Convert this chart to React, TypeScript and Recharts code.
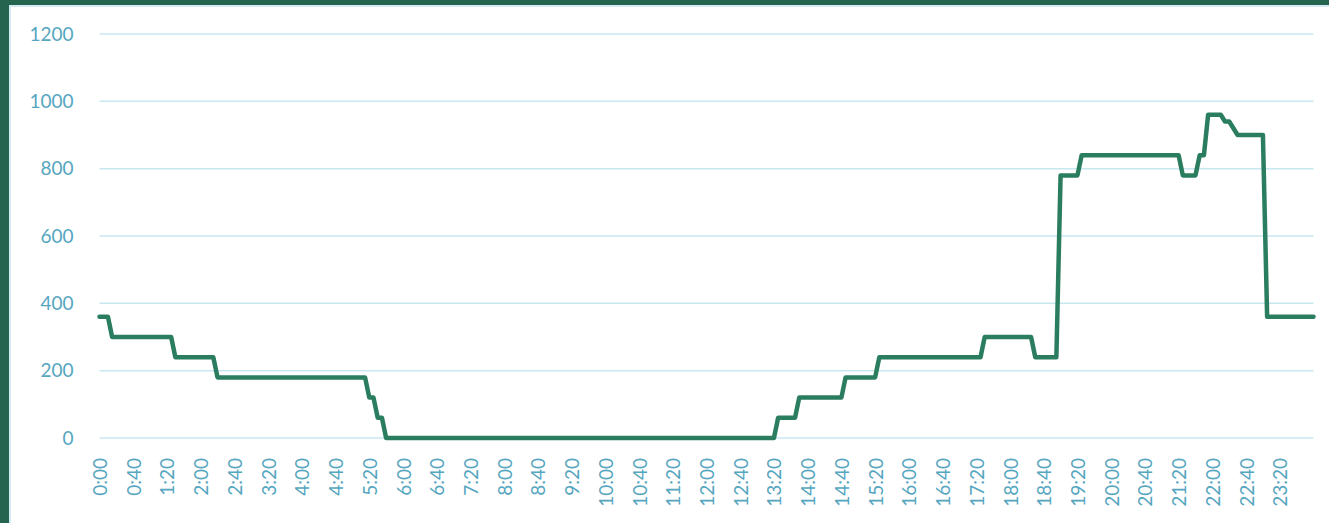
import React from 'react';
import { LineChart, Line, XAxis, YAxis, CartesianGrid } from 'recharts';

// readings every 5 minutes, 0:00 .. 24:00 (12 values per hour)
const HOURLY_VALUES: number[][] = [
  [360, 360, 360, 300, 300, 300, 300, 300, 300, 300, 300, 300], // 0
  [300, 300, 300, 300, 300, 300, 240, 240, 240, 240, 240, 240], // 1
  [240, 240, 240, 240, 180, 180, 180, 180, 180, 180, 180, 180], // 2
  [180, 180, 180, 180, 180, 180, 180, 180, 180, 180, 180, 180], // 3
  [180, 180, 180, 180, 180, 180, 180, 180, 180, 180, 180, 180], // 4
  [180, 180, 180, 180, 120, 120, 60, 60, 0, 0, 0, 0], // 5
  [0, 0, 0, 0, 0, 0, 0, 0, 0, 0, 0, 0], // 6
  [0, 0, 0, 0, 0, 0, 0, 0, 0, 0, 0, 0], // 7
  [0, 0, 0, 0, 0, 0, 0, 0, 0, 0, 0, 0], // 8
  [0, 0, 0, 0, 0, 0, 0, 0, 0, 0, 0, 0], // 9
  [0, 0, 0, 0, 0, 0, 0, 0, 0, 0, 0, 0], // 10
  [0, 0, 0, 0, 0, 0, 0, 0, 0, 0, 0, 0], // 11
  [0, 0, 0, 0, 0, 0, 0, 0, 0, 0, 0, 0], // 12
  [0, 0, 0, 0, 0, 60, 60, 60, 60, 60, 120, 120], // 13
  [120, 120, 120, 120, 120, 120, 120, 120, 120, 180, 180, 180], // 14
  [180, 180, 180, 180, 180, 240, 240, 240, 240, 240, 240, 240], // 15
  [240, 240, 240, 240, 240, 240, 240, 240, 240, 240, 240, 240], // 16
  [240, 240, 240, 240, 240, 240, 300, 300, 300, 300, 300, 300], // 17
  [300, 300, 300, 300, 300, 300, 240, 240, 240, 240, 240, 240], // 18
  [780, 780, 780, 780, 780, 840, 840, 840, 840, 840, 840, 840], // 19
  [840, 840, 840, 840, 840, 840, 840, 840, 840, 840, 840, 840], // 20
  [840, 840, 840, 840, 840, 780, 780, 780, 780, 840, 840, 960], // 21
  [960, 960, 960, 940, 940, 920, 900, 900, 900, 900, 900, 900], // 22
  [900, 360, 360, 360, 360, 360, 360, 360, 360, 360, 360, 360], // 23
  [360], // 24:00
];

const X_TICKS = [
  '0:00', '0:40', '1:20', '2:00', '2:40', '3:20', '4:00', '4:40', '5:20',
  '6:00', '6:40', '7:20', '8:00', '8:40', '9:20', '10:00', '10:40', '11:20',
  '12:00', '12:40', '13:20', '14:00', '14:40', '15:20', '16:00', '16:40',
  '17:20', '18:00', '18:40', '19:20', '20:00', '20:40', '21:20', '22:00',
  '22:40', '23:20',
];

const Y_TICKS = [0, 200, 400, 600, 800, 1000, 1200];

const data = HOURLY_VALUES.flatMap((row, h) =>
  row.map((value, k) => ({
    time: `${h}:${String(k * 5).padStart(2, '0')}`,
    value,
  }))
);

const LABEL_COLOR = '#56a6c0';
const FONT = 'Lato, "Open Sans", sans-serif';

const TimeTick = (props: any) => {
  const { x, y, payload } = props;
  const ty = y + 20;
  return (
    <text
      x={x}
      y={ty}
      transform={`rotate(-90 ${x} ${ty})`}
      textAnchor="end"
      dominantBaseline="central"
      fill={LABEL_COLOR}
      fontSize={19}
      fontFamily={FONT}
    >
      {payload.value}
    </text>
  );
};

export default function App() {
  return (
    <div
      style={{
        position: 'fixed',
        left: 0,
        top: 0,
        width: 1329,
        height: 523,
        background: '#25654f',
        overflow: 'hidden',
      }}
    >
      <div
        style={{
          position: 'absolute',
          left: 9,
          top: 5,
          right: 0,
          bottom: 0,
          background: '#ffffff',
          borderLeft: '2px solid #d4ebf2',
          borderTop: '2px solid #d4ebf2',
        }}
      />
      <div style={{ position: 'absolute', left: 0, top: 0 }}>
        <LineChart
          width={1329}
          height={523}
          data={data}
          margin={{ top: 34, right: 15.5, bottom: 0, left: 0 }}
        >
          <CartesianGrid vertical={false} stroke="#c9e7f1" strokeWidth={1.5} />
          <XAxis
            dataKey="time"
            ticks={X_TICKS}
            interval={0}
            height={85}
            axisLine={false}
            tickLine={false}
            tickSize={0}
            tickMargin={0}
            tick={<TimeTick />}
          />
          <YAxis
            domain={[0, 1200]}
            ticks={Y_TICKS}
            width={99.5}
            axisLine={false}
            tickLine={false}
            tickSize={0}
            tickMargin={26}
            tick={{ fill: LABEL_COLOR, fontSize: 19, fontFamily: FONT }}
          />
          <Line
            type="linear"
            dataKey="value"
            stroke="#2a7d5f"
            strokeWidth={4.5}
            strokeLinejoin="round"
            strokeLinecap="round"
            dot={false}
            activeDot={false}
            isAnimationActive={false}
          />
        </LineChart>
      </div>
    </div>
  );
}
